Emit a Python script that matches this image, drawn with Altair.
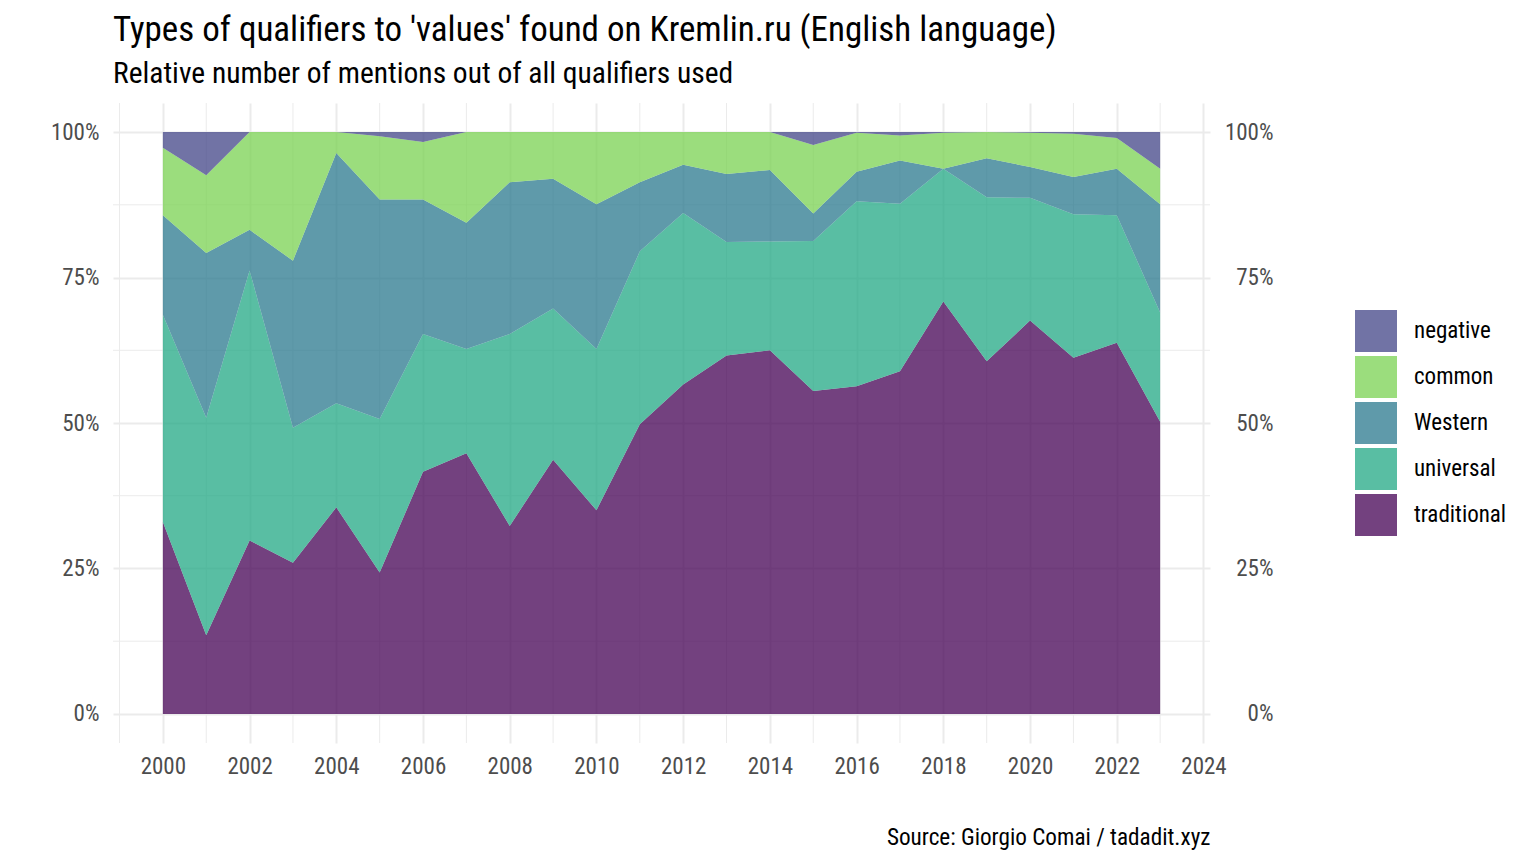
import altair as alt
import pandas as pd

years = list(range(2000, 2024))
categories = ["negative", "common", "Western", "universal", "traditional"]
colors = ["#414487", "#7AD151", "#2A788E", "#22A884", "#440154"]

# percent of qualifiers per year
traditional = [33.0, 13.5, 29.8, 26.0, 35.5, 24.3, 41.6, 44.8, 32.3, 43.7, 35.0, 49.8,
               56.6, 61.6, 62.5, 55.5, 56.3, 58.9, 70.9, 60.6, 67.6, 61.2, 63.8, 50.2]
universal = [35.6, 37.4, 46.4, 23.2, 17.9, 26.4, 23.7, 17.9, 33.0, 26.0, 27.7, 29.7,
             29.5, 19.5, 18.7, 25.8, 31.8, 28.8, 22.8, 28.2, 21.1, 24.7, 21.9, 18.8]
western = [17.1, 28.3, 7.0, 28.7, 43.0, 37.7, 23.1, 21.7, 26.1, 22.3, 24.9, 11.9,
           8.3, 11.7, 12.3, 4.7, 5.1, 7.4, 0.0, 6.7, 5.3, 6.4, 8.0, 18.6]
common = [11.6, 13.4, 16.8, 22.1, 3.6, 10.9, 9.9, 15.6, 8.6, 8.0, 12.4, 8.6,
          5.6, 7.2, 6.5, 11.8, 6.7, 4.3, 6.2, 4.5, 5.9, 7.4, 5.3, 6.1]
negative = [2.7, 7.4, 0.0, 0.0, 0.0, 0.7, 1.7, 0.0, 0.0, 0.0, 0.0, 0.0,
            0.0, 0.0, 0.0, 2.2, 0.1, 0.6, 0.1, 0.0, 0.1, 0.3, 1.0, 6.3]

x_labels = list(range(2000, 2025, 2))
x_minor = list(range(1999, 2024, 2))
y_major = [0, 0.25, 0.5, 0.75, 1.0]
y_minor = [0.125, 0.375, 0.625, 0.875]

series = {"traditional": traditional, "universal": universal, "Western": western,
          "common": common, "negative": negative}
stack_rank = {"traditional": 1, "universal": 2, "Western": 3, "common": 4, "negative": 5}
rows = []
for cat, vals in series.items():
    for y, v in zip(years, vals):
        rows.append({"year": y, "type": cat, "value": v, "rank": stack_rank[cat]})
df = pd.DataFrame(rows)

FONT = "Roboto Condensed, Liberation Sans Narrow, DejaVu Sans Condensed, sans-serif"
GRID = "#EBEBEB"
XDOM = [1998.85, 2024.15]
YDOM = [-0.05, 1.05]

xscale = alt.Scale(domain=XDOM, nice=False, zero=False)

xminor = alt.Chart(pd.DataFrame({"year": x_minor})).mark_rule(
    color=GRID, strokeWidth=1
).encode(x=alt.X("year:Q", scale=xscale))

yminor = alt.Chart(pd.DataFrame({"v": y_minor})).mark_rule(
    color=GRID, strokeWidth=1
).encode(
    y=alt.Y("v:Q", scale=alt.Scale(domain=YDOM, nice=False, zero=False),
            axis=alt.Axis(orient="right", values=y_major, format="%", title=None,
                          grid=False, ticks=False, tickSize=0, domain=False,
                          labelAlign="right", labelPadding=63, labelFontSize=23,
                          labelColor="#4D4D4D", labelFont=FONT))
)

area = alt.Chart(df).mark_area(opacity=0.75, interpolate="linear").encode(
    x=alt.X("year:Q", scale=xscale,
            axis=alt.Axis(values=x_labels, format="d", grid=True, gridColor=GRID,
                          gridWidth=2, ticks=False, domain=False, labelPadding=12,
                          labelFontSize=23, labelColor="#4D4D4D", labelFont=FONT,
                          title="Source: Giorgio Comai / tadadit.xyz",
                          titleAnchor="end", titleAlign="right", titleX=1097,
                          titleY=101, titleBaseline="alphabetic", titleFontSize=23.2,
                          titleFontWeight="normal", titleColor="#000000",
                          titleFont=FONT)),
    y=alt.Y("value:Q", stack="normalize",
            scale=alt.Scale(domain=YDOM, nice=False, zero=False),
            axis=alt.Axis(values=y_major, format="%", title=None, grid=True,
                          gridColor=GRID, gridWidth=2, ticks=False, domain=False,
                          labelPadding=14, labelFontSize=23, labelColor="#4D4D4D",
                          labelFont=FONT)),
    color=alt.Color("type:N", scale=alt.Scale(domain=categories, range=colors),
                    legend=alt.Legend(title=None, orient="none", legendX=1242,
                                      legendY=207, symbolType="square",
                                      symbolSize=1764, symbolOpacity=0.75,
                                      symbolStrokeWidth=0, rowPadding=4,
                                      labelOffset=17, labelFontSize=23,
                                      labelColor="#000000", labelFont=FONT,
                                      padding=0)),
    order=alt.Order("rank:Q", sort="ascending"),
)

chart = alt.layer(xminor, yminor, area).resolve_scale(y="independent").properties(
    width=1097,
    height=640,
    autosize=alt.AutoSizeParams(type="none"),
    padding={"left": 105, "top": 95, "right": 310, "bottom": 116},
    title=alt.TitleParams(
        text="Types of qualifiers to 'values' found on Kremlin.ru (English language)",
        subtitle="Relative number of mentions out of all qualifiers used",
        anchor="start", frame="group", font=FONT, fontSize=35, fontWeight="normal",
        color="#000000", subtitleFont=FONT, subtitleFontSize=29.5,
        subtitleColor="#000000", subtitlePadding=12, offset=14,
    ),
).configure_view(strokeWidth=0)

chart.save("out.html", embed_options={"renderer": "svg", "actions": False})
